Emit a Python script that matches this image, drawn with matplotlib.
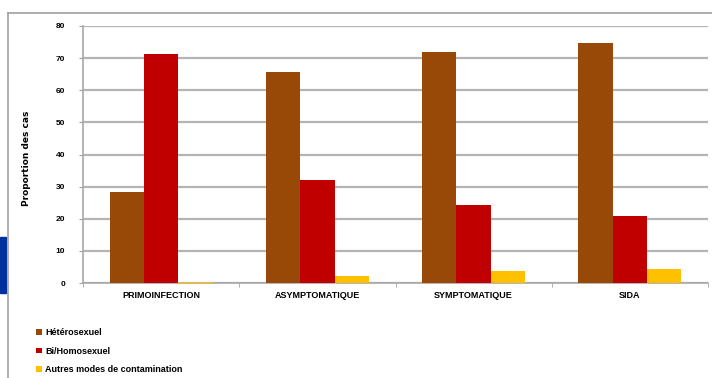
import matplotlib.pyplot as plt
from matplotlib.patches import Patch, Rectangle
from matplotlib.lines import Line2D
import numpy as np

# données (proportion des cas, %)
stades = ["PRIMOINFECTION", "ASYMPTOMATIQUE", "SYMPTOMATIQUE", "SIDA"]
hetero = [28.2, 65.8, 72.0, 74.8]
bi_homo = [71.3, 32.1, 24.2, 20.9]
autres = [0.4, 2.1, 3.7, 4.5]
series_noms = ["Hétérosexuel", "Bi/Homosexuel", "Autres modes de contamination"]
couleurs = ["#984807", "#C00000", "#FFC000"]
y_ticks = [0, 10, 20, 30, 40, 50, 60, 70, 80]

W, H = 712, 378
fig = plt.figure(figsize=(W / 100, H / 100), dpi=100)
ax = fig.add_axes([83 / W, 1 - 283 / H, (708 - 83) / W, (283 - 26) / H])

x = np.arange(len(stades))
larg = 0.22
for i, (vals, coul) in enumerate(zip([hetero, bi_homo, autres], couleurs)):
    ax.bar(x + (i - 1) * larg, vals, width=larg, color=coul, zorder=3)

ax.set_xlim(-0.5, len(stades) - 0.5)
ax.set_ylim(0, 80)
ax.set_yticks(y_ticks)
ax.set_yticklabels([str(v) for v in y_ticks], fontsize=6, fontweight="bold",
                   family=["Liberation Sans", "DejaVu Sans"])
ax.yaxis.grid(True, color="#b4b4b4", linewidth=1.6, zorder=0)
ax.set_axisbelow(True)

ax.set_xticks(x)
ax.set_xticklabels(stades, fontsize=6.5, fontweight="bold",
                   family=["Liberation Sans", "DejaVu Sans"])
ax.set_xticks(np.arange(-0.5, len(stades), 1.0), minor=True)
ax.tick_params(axis="x", which="major", length=0, pad=6)
ax.tick_params(axis="x", which="minor", length=3, color="#a0a0a0")
ax.tick_params(axis="y", length=3, color="#a0a0a0", pad=10)

for s in ["top", "right"]:
    ax.spines[s].set_visible(False)
for s in ["left", "bottom"]:
    ax.spines[s].set_color("#a8a8a8")
    ax.spines[s].set_linewidth(1.2)

fig.text(27 / W, 1 - 158 / H, "Proportion des cas", rotation=90,
         fontsize=6.5, fontweight="bold", ha="center", va="center",
         family=["Liberation Sans Narrow", "DejaVu Sans"])

# cadre extérieur
fig.add_artist(Line2D([8 / W, 8 / W], [0, 1 - 13 / H], color="#a0a0a0",
                      linewidth=1.2, transform=fig.transFigure))
fig.add_artist(Line2D([8 / W, 1], [1 - 13 / H, 1 - 13 / H], color="#a0a0a0",
                      linewidth=1.2, transform=fig.transFigure))
# bloc bleu à gauche
fig.add_artist(Rectangle((0, 1 - 293 / H), 6 / W, 56 / H, color="#00309C",
                         transform=fig.transFigure))

handles = [Patch(facecolor=c, edgecolor="none") for c in couleurs]
fig.legend(handles, series_noms, loc="upper left",
           bbox_to_anchor=(28 / W, 1 - 320 / H), frameon=False,
           handlelength=0.6, handleheight=0.6, handletextpad=0.4,
           labelspacing=1.05,
           prop={"size": 6.5, "weight": "bold", "family": ["Liberation Sans", "DejaVu Sans"]})

fig.savefig("out.png", dpi=100)
